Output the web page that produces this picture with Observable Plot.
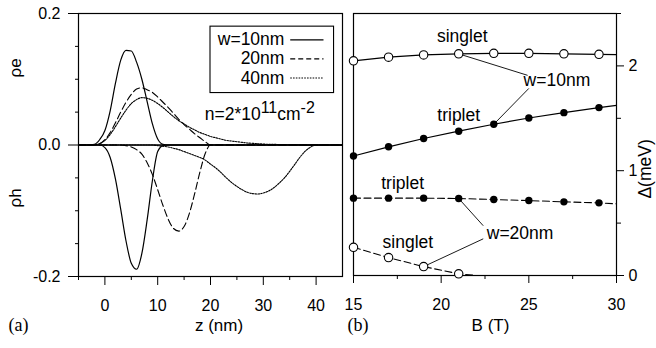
<!DOCTYPE html>
<html><head><meta charset="utf-8">
<script src="https://cdn.jsdelivr.net/npm/d3@7"></script>
<script src="https://cdn.jsdelivr.net/npm/@observablehq/plot@0.6"></script>
<style>
body{margin:0;background:#fff;}
#wrap{position:relative;width:656px;height:348px;overflow:hidden;background:#fff;}
#a{position:absolute;left:0;top:0;}
#b{position:absolute;left:348px;top:0;}
svg text{font-family:"Liberation Sans", Arial, Helvetica, sans-serif;}
svg .serif text{font-family:"Liberation Serif", "Times New Roman", serif;}
</style></head><body><div id="wrap"><div id="a"></div><div id="b"></div></div>
<script>
// ---- Panel (a): charge densities vs z ----
const zPos = d3.range(-5, 46); // -5 .. 45 nm
const e10 = [0,0,0,0.001,0.008,0.022,0.052,0.094,0.129,0.144,0.143,0.126,0.100,0.066,0.032,0.009,0.001,0,0,0,0,0,0,0,0,0,0,0,0,0,0,0,0,0,0,0,0,0,0,0,0,0,0,0,0,0,0,0,0,0,0];
const h10 = [0,0,0,0,0,-0.004,-0.019,-0.052,-0.098,-0.146,-0.180,-0.189,-0.165,-0.114,-0.054,-0.010,-0.001,0,0,0,0,0,0,0,0,0,0,0,0,0,0,0,0,0,0,0,0,0,0,0,0,0,0,0,0,0,0,0,0,0,0];
const e20 = [0,0,0,0.0005,0.002,0.008,0.019,0.034,0.050,0.065,0.077,0.085,0.087,0.084,0.080,0.073,0.065,0.057,0.048,0.039,0.031,0.024,0.017,0.011,0.005,0,0,0,0,0,0,0,0,0,0,0,0,0,0,0,0,0,0,0,0,0,0,0,0,0,0];
const h20 = [0,0,0,0,0,0,0,0,0,-0.001,-0.003,-0.007,-0.014,-0.027,-0.045,-0.068,-0.092,-0.113,-0.127,-0.131,-0.124,-0.104,-0.074,-0.041,-0.013,0,0,0,0,0,0,0,0,0,0,0,0,0,0,0,0,0,0,0,0,0,0,0,0,0,0];
const e40 = [0,0,0,0.0005,0.002,0.007,0.016,0.028,0.041,0.053,0.063,0.069,0.072,0.071,0.068,0.063,0.057,0.050,0.043,0.037,0.032,0.027,0.023,0.019,0.016,0.013,0.011,0.009,0.007,0.006,0.005,0.004,0.003,0.0025,0.002,0.0015,0.001,0.001,0.0007,0.0005,0.0004,0.0003,0.0002,0.0001,0.0001,0,0,0,0,0,0];
const h40 = [0,0,0,0,0,0,0,0,0,0,0,0,0,0,0,-0.001,-0.002,-0.003,-0.005,-0.007,-0.010,-0.013,-0.016,-0.019,-0.023,-0.029,-0.035,-0.042,-0.050,-0.057,-0.063,-0.068,-0.072,-0.074,-0.0745,-0.073,-0.070,-0.065,-0.058,-0.050,-0.040,-0.029,-0.018,-0.009,-0.003,0,0,0,0,0,0];
const legendNames = ["w=10nm", "20nm", "40nm"];
const densityText = "n=2*10¹¹cm⁻²";

// ---- Panel (b): gap vs B ----
const bPts = [15,17,19,21,23,25,27,29];
const singlet10 = [2.048,2.083,2.105,2.115,2.120,2.120,2.115,2.110];
const triplet10 = [1.140,1.228,1.307,1.377,1.443,1.503,1.554,1.602];
const triplet20 = [0.738,0.738,0.738,0.735,0.725,0.715,0.703,0.693];
const singlet20 = [0.269,0.171,0.085,0.016];
const bLine = [15,17,19,21,23,25,27,29,30];
const singlet10Line = [2.048,2.083,2.105,2.115,2.120,2.120,2.115,2.110,2.108];
const triplet10Line = [1.140,1.228,1.307,1.377,1.443,1.503,1.554,1.602,1.624];
const triplet20Line = [0.738,0.738,0.738,0.735,0.725,0.715,0.703,0.693,0.684];
const bLine20s = [15,17,19,21,22];
const singlet20Line = [0.269,0.171,0.085,0.016,0];
const annText = ["singlet","w=10nm","triplet","triplet","w=20nm","singlet"];

const FONT = "'Liberation Sans', Arial, Helvetica, sans-serif";
const DASH = "7,3.5";
const DOT = "1.6,1.2";

const styleObj = {fontFamily: FONT, fontSize: "16px", background: "white", color: "black", overflow: "visible"};
const legY = [0.160, 0.131, 0.102];

const plotA = Plot.plot({
  width: 348, height: 348,
  marginLeft: 78, marginRight: 6, marginTop: 13, marginBottom: 72,
  style: styleObj,
  x: {domain: [-5, 45]},
  y: {domain: [-0.2, 0.2]},
  marks: [
    Plot.frame({strokeWidth: 1.2}),
    Plot.ruleY([0], {strokeWidth: 1.6}),
    Plot.line(zPos, {x: zPos, y: e10, curve: "monotone-x", strokeWidth: 1.2}),
    Plot.line(zPos, {x: zPos, y: h10, curve: "monotone-x", strokeWidth: 1.2}),
    Plot.line(zPos, {x: zPos, y: e20, curve: "monotone-x", strokeWidth: 1.1, strokeDasharray: DASH}),
    Plot.line(zPos, {x: zPos, y: h20, curve: "monotone-x", strokeWidth: 1.1, strokeDasharray: DASH}),
    Plot.line(zPos, {x: zPos, y: e40, curve: "monotone-x", strokeWidth: 1.1, strokeDasharray: DOT}),
    Plot.line(zPos, {x: zPos, y: h40, curve: "monotone-x", strokeWidth: 1.1, strokeDasharray: DOT}),
    Plot.axisY([-0.2, 0, 0.2], {tickSize: 10, tickPadding: 8, tickFormat: d => d.toFixed(1), label: null, fontSize: 16}),
    Plot.axisY([-0.15,-0.1,-0.05,0.05,0.1,0.15], {tickSize: 3, tickFormat: () => "", label: null}),
    Plot.axisX([0,10,20,30,40], {tickSize: 9, tickPadding: 14, tickFormat: d => String(d), label: null, fontSize: 16}),
    Plot.axisX([-5,5,15,25,35], {tickSize: 4, tickFormat: () => "", label: null}),
    // legend box
    Plot.rect([0], {x1: 20, x2: 43.4, y1: 0.079, y2: 0.180, stroke: "black", fill: "none", strokeWidth: 1.1}),
    Plot.text(legendNames, {x: 34.0, y: legY, text: d => d, textAnchor: "end", fontSize: 17.5}),
    Plot.link([0], {x1: 35.1, x2: 41.4, y1: legY[0], y2: legY[0], strokeWidth: 1.2}),
    Plot.link([0], {x1: 35.1, x2: 41.4, y1: legY[1], y2: legY[1], strokeWidth: 1.1, strokeDasharray: "5,3"}),
    Plot.link([0], {x1: 35.1, x2: 41.4, y1: legY[2], y2: legY[2], strokeWidth: 1.1, strokeDasharray: DOT}),
    Plot.text([densityText], {x: 18.9, y: 0.046, text: d => d, textAnchor: "start", fontSize: 17.5, className: "ntext"}),
    Plot.text(["ρe", "ρh"], {frameAnchor: "left", y: [0.1027, -0.095], text: d => d, dx: -63, rotate: -90, fontSize: 17}),
    Plot.text(["z (nm)"], {frameAnchor: "bottom", dx: 8.5, dy: 54, text: d => d, fontSize: 17}),
    Plot.text(["(a)"], {frameAnchor: "bottom-left", dx: -70, dy: 54, text: d => d, textAnchor: "start", fontSize: 18, className: "serif"})
  ]
});
document.getElementById("a").appendChild(plotA);

// superscripts in the density annotation
d3.select(plotA).selectAll(".ntext text").each(function() {
  const t = d3.select(this);
  t.text(null);
  t.append("tspan").text("n=2*10");
  t.append("tspan").attr("dy", -7).attr("font-size", "16px").text("11");
  t.append("tspan").attr("dy", 7).text("cm");
  t.append("tspan").attr("dy", -7).attr("font-size", "16px").text("-2");
});

const plotB = Plot.plot({
  width: 308, height: 348,
  marginLeft: 5, marginRight: 40, marginTop: 13, marginBottom: 73,
  style: styleObj,
  x: {domain: [15, 30]},
  y: {domain: [0, 2.5]},
  marks: [
    Plot.frame({strokeWidth: 1.2}),
    Plot.line(bLine, {x: bLine, y: singlet10Line, strokeWidth: 1.2}),
    Plot.line(bLine, {x: bLine, y: triplet10Line, strokeWidth: 1.2}),
    Plot.line(bLine, {x: bLine, y: triplet20Line, strokeWidth: 1.1, strokeDasharray: DASH}),
    Plot.line(bLine20s, {x: bLine20s, y: singlet20Line, strokeWidth: 1.1, strokeDasharray: DASH}),
    // leader lines
    Plot.link([0,1,2,3], {x1: [21, 23, 21, 19], y1: [2.115, 1.443, 0.735, 0.085],
                          x2: [24.93, 25.0, 22.4, 22.4], y2: [1.91, 1.785, 0.475, 0.35], strokeWidth: 0.9}),
    Plot.dot(bPts, {x: bPts, y: singlet10, r: 4.2, stroke: "black", fill: "white", strokeWidth: 1.1}),
    Plot.dot(bPts.slice(0, singlet20.length), {x: bPts.slice(0, singlet20.length), y: singlet20, r: 4.2, stroke: "black", fill: "white", strokeWidth: 1.1}),
    Plot.dot(bPts, {x: bPts, y: triplet10, r: 3.7, fill: "black"}),
    Plot.dot(bPts, {x: bPts, y: triplet20, r: 3.7, fill: "black"}),
    Plot.text(annText, {x: [21.2, 26.6, 21, 17.8, 24.5, 18.1], y: [2.28, 1.86, 1.53, 0.875, 0.40, 0.315], text: d => d, fontSize: 17.5}),
    Plot.axisY([0, 1, 2], {anchor: "right", tickSize: 7, tickPadding: 5, tickFormat: d => String(d), label: null, fontSize: 16}),
    Plot.axisY([0.5, 1.5, 2.5], {anchor: "right", tickSize: 4, tickFormat: () => "", label: null}),
    Plot.axisX([15, 20, 25, 30], {tickSize: 8, tickPadding: 15, tickFormat: d => String(d), label: null, fontSize: 16}),
    Plot.axisX([17.5, 22.5, 27.5], {tickSize: 4, tickFormat: () => "", label: null}),
    Plot.text(["Δ(meV)"], {frameAnchor: "right", y: 1.30, dx: 29, rotate: -90, text: d => d, fontSize: 17.5}),
    Plot.text(["B (T)"], {frameAnchor: "bottom", dx: 5.5, dy: 55, text: d => d, fontSize: 17}),
    Plot.text(["(b)"], {frameAnchor: "bottom-left", dx: -6, dy: 55, text: d => d, textAnchor: "start", fontSize: 18, className: "serif"})
  ]
});
document.getElementById("b").appendChild(plotB);
</script>
</body></html>
